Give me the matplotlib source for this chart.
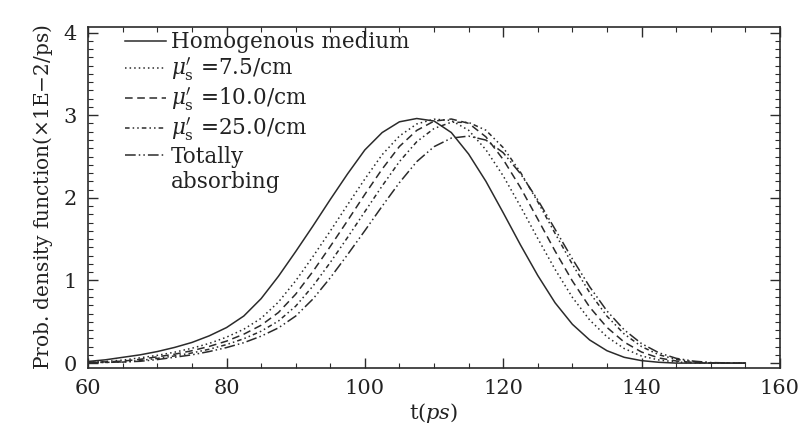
import numpy as np
import matplotlib
matplotlib.use("Agg")
import matplotlib.pyplot as plt
from matplotlib.lines import Line2D
from matplotlib.ticker import MultipleLocator

plt.rcParams['font.family'] = ['DejaVu Serif']
plt.rcParams['mathtext.fontset'] = 'dejavuserif'

# ============================================================
# DATA (x1E-2 / ps)
# ============================================================
t = [60, 62.5, 65, 67.5, 70, 72.5, 75, 77.5, 80, 82.5, 85, 87.5, 90, 92.5,
     95, 97.5, 100, 102.5, 105, 107.5, 110, 112.5, 115, 117.5, 120, 122.5,
     125, 127.5, 130, 132.5, 135, 137.5, 140, 142.5, 145, 147.5, 150, 152.5, 155]

homogenous = [0.02, 0.04, 0.07, 0.10, 0.14, 0.19, 0.25, 0.33, 0.43, 0.57,
              0.78, 1.05, 1.35, 1.66, 1.98, 2.29, 2.58, 2.79, 2.92, 2.96,
              2.93, 2.79, 2.53, 2.20, 1.82, 1.43, 1.06, 0.73, 0.47, 0.28,
              0.15, 0.07, 0.03, 0.01, 0.0, 0.0, 0.0, 0.0, 0.0]

mus_7_5 = [0.01, 0.02, 0.036, 0.064, 0.094, 0.132, 0.18, 0.238, 0.314, 0.41,
           0.542, 0.738, 0.996, 1.29, 1.598, 1.916, 2.228, 2.522, 2.748, 2.894,
           2.952, 2.936, 2.818, 2.582, 2.266, 1.896, 1.508, 1.134, 0.796, 0.522,
           0.318, 0.176, 0.086, 0.038, 0.014, 0.002, 0.0, 0.0, 0.0]

mus_10 = [0.01, 0.015, 0.024, 0.046, 0.076, 0.108, 0.15, 0.202, 0.266, 0.35,
          0.458, 0.612, 0.834, 1.11, 1.412, 1.724, 2.042, 2.348, 2.622, 2.816,
          2.928, 2.954, 2.902, 2.738, 2.464, 2.124, 1.742, 1.356, 0.994, 0.678,
          0.432, 0.254, 0.134, 0.062, 0.026, 0.008, 0.002, 0.0, 0.0]

mus_25 = [0.006, 0.009, 0.012, 0.032, 0.057, 0.087, 0.123, 0.168, 0.224, 0.295,
          0.386, 0.509, 0.689, 0.933, 1.218, 1.521, 1.833, 2.144, 2.439, 2.679,
          2.839, 2.915, 2.913, 2.818, 2.608, 2.309, 1.952, 1.570, 1.196, 0.853,
          0.568, 0.352, 0.200, 0.101, 0.046, 0.018, 0.004, 0.001, 0.0]

absorbing = [0.004, 0.008, 0.014, 0.022, 0.043, 0.071, 0.100, 0.140, 0.188, 0.247,
             0.326, 0.426, 0.569, 0.776, 1.032, 1.313, 1.603, 1.899, 2.184, 2.438,
             2.619, 2.723, 2.747, 2.699, 2.546, 2.292, 1.975, 1.620, 1.261, 0.924,
             0.631, 0.402, 0.236, 0.125, 0.058, 0.024, 0.007, 0.002, 0.0]

LABELS = ["Homogenous medium",
          r"$\mu_{\rm s}'$ =7.5/cm",
          r"$\mu_{\rm s}'$ =10.0/cm",
          r"$\mu_{\rm s}'$ =25.0/cm",
          "Totally", "absorbing"]

# ============================================================
# PLOT
# ============================================================
INK = '#2b2b2b'
fig = plt.figure(figsize=(8.09, 4.32), dpi=100)
ax = fig.add_axes([0.109, 0.148, 0.855, 0.790])

h0, = ax.plot(t, homogenous, '-', color=INK, lw=1.1)
h1, = ax.plot(t, mus_7_5, color=INK, lw=1.1, linestyle=(0, (1, 2)))
h2, = ax.plot(t, mus_10, color=INK, lw=1.1, linestyle=(0, (5, 3)))
h3, = ax.plot(t, mus_25, color=INK, lw=1.1, linestyle=(0, (3, 2, 1, 2, 1, 2)))
h4, = ax.plot(t, absorbing, color=INK, lw=1.1, linestyle=(0, (7, 2, 1, 2, 1, 2)))
blank = Line2D([], [], color='none')

ax.set_xlim(60, 160)
ax.set_ylim(-0.06, 4.07)
ax.xaxis.set_major_locator(MultipleLocator(20))
ax.xaxis.set_minor_locator(MultipleLocator(5))
ax.yaxis.set_major_locator(MultipleLocator(1))
ax.yaxis.set_minor_locator(MultipleLocator(0.1))
ax.tick_params(which='both', direction='in', top=True, right=True,
               colors=INK, labelcolor='#222222')
ax.tick_params(which='major', length=7, width=1.0, labelsize=15, pad=8)
ax.tick_params(which='minor', length=3.5, width=0.8)
for s in ax.spines.values():
    s.set_color(INK)
    s.set_linewidth(1.2)

ax.set_xlabel(r"t($ps$)", fontsize=15, color='#222222', labelpad=2)
ax.set_ylabel(r"Prob. density function($\times$1E$-$2/ps)", fontsize=14.5,
              color='#222222', labelpad=6)

leg = ax.legend([h0, h1, h2, h3, h4, blank], LABELS,
                loc='upper left', bbox_to_anchor=(0.035, 1.025), frameon=False,
                fontsize=15.5, handlelength=1.9, handletextpad=0.2,
                labelspacing=0.12, borderaxespad=0.2)
for txt in leg.get_texts():
    txt.set_color('#222222')

fig.savefig("out.png", dpi=100, facecolor='white')
